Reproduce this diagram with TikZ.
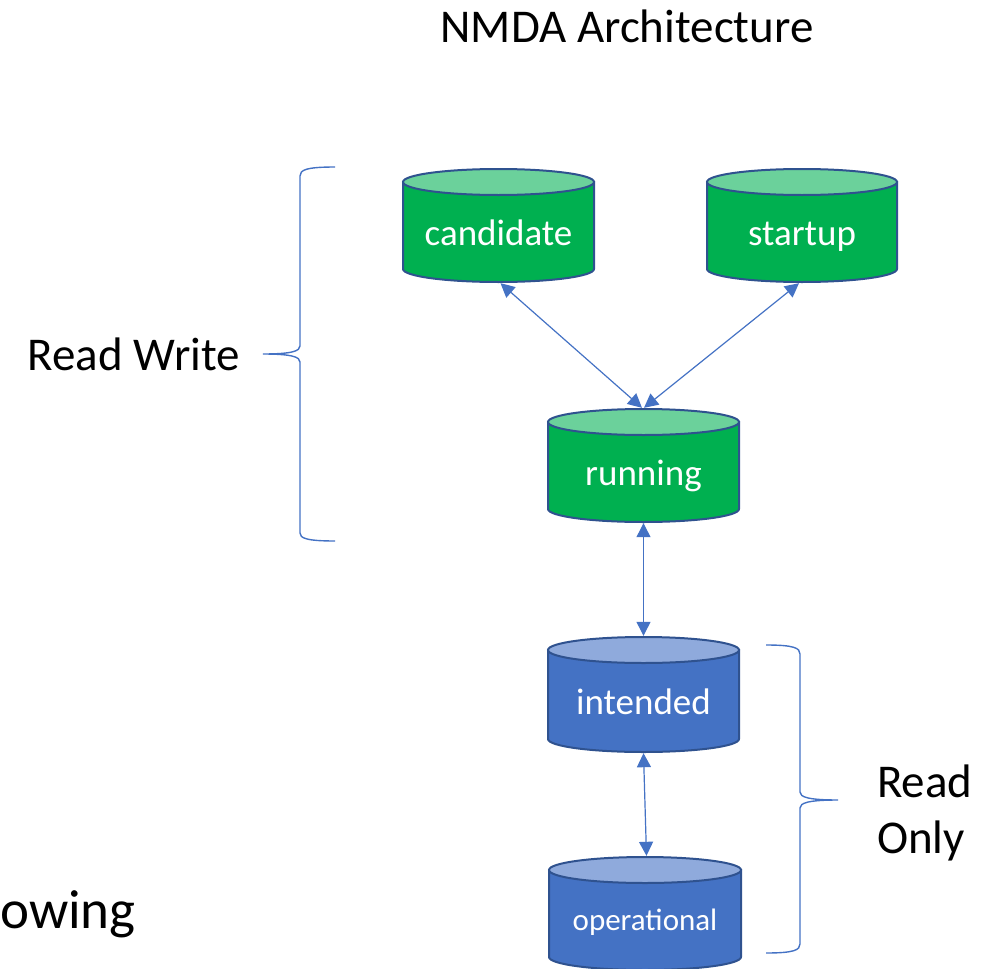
\documentclass[tikz,border=0pt]{standalone}
\usepackage{fontspec}
\setmainfont{Carlito}
\usetikzlibrary{arrows.meta}
\definecolor{gbody}{HTML}{00B050}
\definecolor{gtop}{HTML}{6BD19B}
\definecolor{bbody}{HTML}{4472C4}
\definecolor{btop}{HTML}{8FAADC}
\definecolor{rim}{HTML}{2F528F}
\definecolor{link}{HTML}{4472C4}
\tikzset{
  cylbox/.style={draw=none, rectangle, inner sep=0pt},
  dblabel/.style={anchor=base, text=white, inner sep=0pt, font=\fontsize{37}{40}\selectfont},
  conn/.style={draw=link, line width=1.2pt, {Triangle[length=14pt,width=14pt]}-{Triangle[length=14pt,width=14pt]}},
  bracestyle/.style={draw=link, line width=1.4pt},
  bigtext/.style={anchor=base, inner sep=0pt, font=\fontsize{47}{52}\selectfont},
  rimline/.style={draw=rim, line width=2pt}
}
% #1 name, #2 cx, #3 top ellipse centre y, #4 bottom ellipse centre y, #5 half width, #6 body colour, #7 top colour
\newcommand{\dbcyl}[7]{%
  \filldraw[rimline, fill=#6] ({#2-#5},#3) -- ({#2-#5},#4)
    .. controls ({#2-#5},{#4+7.2}) and ({#2-0.552*#5},{#4+13}) .. (#2,{#4+13})
    .. controls ({#2+0.552*#5},{#4+13}) and ({#2+#5},{#4+7.2}) .. ({#2+#5},#4)
    -- ({#2+#5},#3) -- cycle;
  \filldraw[rimline, fill=#7] (#2,#3) ellipse [x radius=#5, y radius=13];
  \node[cylbox, minimum width={2*#5}, minimum height={#4-#3+26}] (#1) at (#2,{(#3+#4)/2}) {};
}
\begin{document}
\begin{tikzpicture}[x=1pt, y=-1pt]
\useasboundingbox (0,0) rectangle (991,969);

\node[bigtext] (title) at (627,42) {NMDA Architecture};

\dbcyl{cand}{498.5}{182}{269}{95.5}{gbody}{gtop}
\dbcyl{start}{802}{182}{269}{95}{gbody}{gtop}
\dbcyl{run}{643.5}{422}{509}{95.5}{gbody}{gtop}
\dbcyl{int}{643.5}{650}{739}{95.5}{bbody}{btop}
\dbcyl{oper}{645}{870}{957}{96}{bbody}{btop}

\node[dblabel] (candt) at (498.5,245) {candidate};
\node[dblabel] (startt) at (802,245) {startup};
\node[dblabel] (runt) at (643.5,485) {running};
\node[dblabel] (intt) at (643.5,714) {intended};
\node[dblabel, font=\fontsize{31}{34}\selectfont] (opert) at (645,930) {operational};

\draw[conn] ([xshift=2pt,yshift=-1pt]cand.south) -- ([xshift=-1.5pt,yshift=1pt]run.north);
\draw[conn] ([xshift=-3pt,yshift=-1pt]start.south) -- ([xshift=0.5pt,yshift=1pt]run.north);
\draw[conn] ([yshift=-1pt]run.south) -- ([yshift=1pt]int.north);
\draw[conn] ([yshift=-1pt]int.south) -- ([xshift=1.5pt,yshift=1pt]oper.north);

% left brace
\draw[bracestyle] (335,167) .. controls (306,167) and (300,170) .. (300,176) -- (300,346)
  .. controls (300,351) and (292,354) .. (263,354)
  .. controls (292,354) and (300,357) .. (300,362) -- (300,533)
  .. controls (300,538) and (306,541) .. (335,541);
\node[bigtext, anchor=base east] (rw) at (240,370) {Read Write};

% right brace
\draw[bracestyle] (766,645) .. controls (794,645) and (800,648) .. (800,654) -- (800,792)
  .. controls (800,797) and (808,800) .. (838,800)
  .. controls (808,800) and (800,803) .. (800,808) -- (800,944)
  .. controls (800,950) and (794,953) .. (766,953);
\node[bigtext, anchor=base west] (ro1) at (877,797) {Read};
\node[bigtext, anchor=base west] (ro2) at (877,853) {Only};

\node[anchor=base west, inner sep=0pt, font=\fontsize{55}{60}\selectfont] (owing) at (0,928) {owing};
\end{tikzpicture}
\end{document}
